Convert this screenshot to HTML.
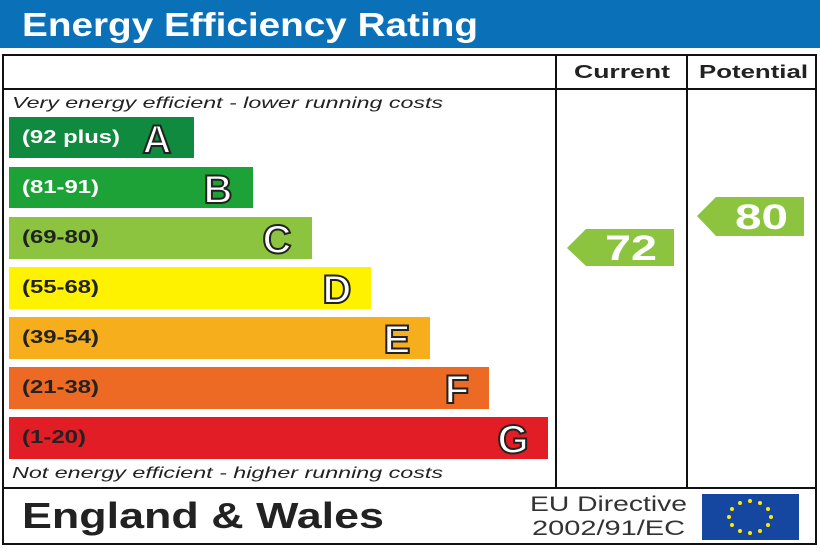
<!DOCTYPE html><html><head><style>body{margin:0;background:#fff}</style></head><body>
<svg width="820" height="547" xmlns="http://www.w3.org/2000/svg" font-family="Liberation Sans, Arial, sans-serif">
<rect x="0" y="0" width="820" height="48" fill="#0a71b9"/>
<text x="22" y="36" font-size="33" font-weight="bold" fill="#fff" textLength="456" lengthAdjust="spacingAndGlyphs">Energy Efficiency Rating</text>
<rect x="3" y="55" width="813" height="489" fill="none" stroke="#111" stroke-width="2"/>
<line x1="3" y1="89" x2="816" y2="89" stroke="#111" stroke-width="2"/>
<line x1="3" y1="488" x2="816" y2="488" stroke="#111" stroke-width="2"/>
<line x1="556" y1="55" x2="556" y2="488" stroke="#111" stroke-width="2"/>
<line x1="687" y1="55" x2="687" y2="488" stroke="#111" stroke-width="2"/>
<text x="574" y="78" font-size="18" font-weight="bold" fill="#222" textLength="96" lengthAdjust="spacingAndGlyphs">Current</text>
<text x="699" y="78" font-size="18" font-weight="bold" fill="#222" textLength="109" lengthAdjust="spacingAndGlyphs">Potential</text>
<text x="12" y="108" font-size="16" font-style="italic" fill="#222" textLength="431" lengthAdjust="spacingAndGlyphs">Very energy efficient - lower running costs</text>
<text x="12" y="478" font-size="16" font-style="italic" fill="#222" textLength="431" lengthAdjust="spacingAndGlyphs">Not energy efficient - higher running costs</text>
<g font-weight="bold">
<rect x="9" y="117" width="185" height="41" fill="#108a3e"/><text x="22" y="143" font-size="18" fill="#fff" textLength="98" lengthAdjust="spacingAndGlyphs">(92 plus)</text><text x="157" y="153" font-size="40" fill="#fff" stroke="#222" stroke-width="2" text-anchor="middle">A</text>
<rect x="9" y="167" width="244" height="41" fill="#1da238"/><text x="22" y="193" font-size="18" fill="#fff" textLength="77" lengthAdjust="spacingAndGlyphs">(81-91)</text><text x="218" y="203" font-size="40" fill="#fff" stroke="#222" stroke-width="2" text-anchor="middle">B</text>
<rect x="9" y="217" width="303" height="42" fill="#8cc43f"/><text x="22" y="243" font-size="18" fill="#222" textLength="77" lengthAdjust="spacingAndGlyphs">(69-80)</text><text x="277" y="253" font-size="40" fill="#fff" stroke="#222" stroke-width="2" text-anchor="middle">C</text>
<rect x="9" y="267" width="362" height="42" fill="#fff200"/><text x="22" y="293" font-size="18" fill="#222" textLength="77" lengthAdjust="spacingAndGlyphs">(55-68)</text><text x="337" y="303" font-size="40" fill="#fff" stroke="#222" stroke-width="2" text-anchor="middle">D</text>
<rect x="9" y="317" width="421" height="42" fill="#f7ae1c"/><text x="22" y="343" font-size="18" fill="#222" textLength="77" lengthAdjust="spacingAndGlyphs">(39-54)</text><text x="397" y="353" font-size="40" fill="#fff" stroke="#222" stroke-width="2" text-anchor="middle">E</text>
<rect x="9" y="367" width="480" height="42" fill="#ed6a24"/><text x="22" y="393" font-size="18" fill="#222" textLength="77" lengthAdjust="spacingAndGlyphs">(21-38)</text><text x="457" y="403" font-size="40" fill="#fff" stroke="#222" stroke-width="2" text-anchor="middle">F</text>
<rect x="9" y="417" width="539" height="42" fill="#e31d25"/><text x="22" y="443" font-size="18" fill="#222" textLength="64" lengthAdjust="spacingAndGlyphs">(1-20)</text><text x="513" y="453" font-size="40" fill="#fff" stroke="#222" stroke-width="2" text-anchor="middle">G</text>
<polygon points="567,248 586,229 674,229 674,266 586,266" fill="#8cc43f"/><text x="605" y="260" font-size="35" fill="#fff" textLength="52" lengthAdjust="spacingAndGlyphs">72</text>
<polygon points="697,216 716,197 804,197 804,236 716,236" fill="#8cc43f"/><text x="735" y="229" font-size="35" fill="#fff" textLength="53" lengthAdjust="spacingAndGlyphs">80</text>
</g>
<text x="22" y="528" font-size="36" font-weight="bold" fill="#222" textLength="362" lengthAdjust="spacingAndGlyphs">England &amp; Wales</text>
<text x="530" y="511" font-size="21" fill="#333" textLength="157" lengthAdjust="spacingAndGlyphs">EU Directive</text>
<text x="532" y="535" font-size="21" fill="#333" textLength="153" lengthAdjust="spacingAndGlyphs">2002/91/EC</text>
<rect x="702" y="494" width="97" height="46" fill="#1546a0"/>
<g fill="#ffea00">
<circle cx="750" cy="501" r="2"/><circle cx="760" cy="503" r="2"/><circle cx="768" cy="509" r="2"/><circle cx="771" cy="517" r="2"/><circle cx="768" cy="525" r="2"/><circle cx="760" cy="531" r="2"/><circle cx="750" cy="533" r="2"/><circle cx="740" cy="531" r="2"/><circle cx="732" cy="525" r="2"/><circle cx="729" cy="517" r="2"/><circle cx="732" cy="509" r="2"/><circle cx="740" cy="503" r="2"/>
</g>
</svg>
</body></html>
